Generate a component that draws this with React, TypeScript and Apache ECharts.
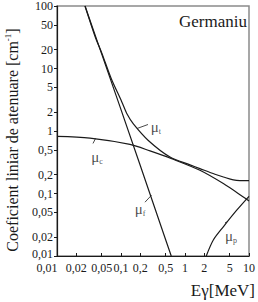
import React, { useEffect, useRef } from "react";
import * as echarts from "echarts";

const xTicks = [0.01, 0.02, 0.05, 0.1, 0.2, 0.5, 1, 2, 5, 10];
const xTickLabels = ["0,01", "0,02", "0,05", "0,1", "0,2", "0,5", "1", "2", "5", "10"];
const yTicks = [0.01, 0.02, 0.05, 0.1, 0.2, 0.5, 1, 2, 5, 10, 20, 50, 100];
const yTickLabels = ["0,01", "0,02", "0,05", "0,1", "0,2", "0,5", "1", "2", "5", "10", "20", "50", "100"];

// photoelectric (mu_f)
const energyF = [0.0274, 0.05, 0.1, 0.2, 0.5, 0.61];
const muF = [100, 17, 2.2, 0.28, 0.018, 0.01];

// Compton (mu_c)
const energyC = [0.01, 0.0328, 0.138, 0.284, 0.619, 1.71, 3.97, 8.15, 10];
const muC = [0.82, 0.77, 0.61, 0.48, 0.36, 0.235, 0.144, 0.088, 0.076];

// pair production (mu_p)
const energyP = [2.15, 2.77, 3.97, 6.43, 10];
const muP = [0.01, 0.018, 0.0293, 0.054, 0.09];

// total (mu_t)
const energyT = [0.0274, 0.04, 0.05, 0.07, 0.1026, 0.125, 0.156, 0.267, 0.583, 1.197, 1.71, 2.94, 3.97, 5.69, 7.23, 10];
const muT = [100, 31, 17.8, 7.0, 2.95, 1.85, 1.3, 0.706, 0.383, 0.287, 0.25, 0.203, 0.184, 0.165, 0.161, 0.161];

// curve labels
const labelSubs = ["t", "c", "f", "p"];
const labelE = [0.352, 0.0422, 0.198, 5.23];
const labelMu = [1.14, 0.378, 0.056, 0.0208];
const leaderFromE = [0.178, 0.04, 0.3, 4.45];
const leaderFromMu = [1.096, 0.76, 0.094, 0.0355];
const leaderToE = [0.264, 0.0365, 0.237, 4.22];
const leaderToMu = [1.27, 0.632, 0.0726, 0.0336];

const SERIF = '"Liberation Serif", "Times New Roman", serif';

function lookup(v: number, ticks: number[], labels: string[]) {
  for (let i = 0; i < ticks.length; i++) {
    if (Math.abs(Math.log10(v) - Math.log10(ticks[i])) < 1e-4) return labels[i];
  }
  return "";
}

const zip = (a: number[], b: number[]) => a.map((v, i) => [v, b[i]]);

export default function App() {
  const ref = useRef<HTMLDivElement>(null);
  useEffect(() => {
    document.body.style.margin = "0";
    if (!ref.current) return;
    const chart = echarts.init(ref.current, undefined, { renderer: "svg" });
    const lineStyle = { color: "#1a1a1a", width: 1.2 };
    const curve = (data: number[][], smooth: boolean | number) => ({
      type: "line",
      data,
      smooth,
      symbol: "none",
      lineStyle,
      clip: true,
      silent: true,
    });
    const leaders = labelSubs.map((_, i) => ({
      type: "line",
      data: [
        [leaderFromE[i], leaderFromMu[i]],
        [leaderToE[i], leaderToMu[i]],
      ],
      symbol: "none",
      lineStyle: { color: "#1a1a1a", width: 0.8 },
      silent: true,
    }));
    chart.setOption({
      animation: false,
      backgroundColor: "#ffffff",
      textStyle: { fontFamily: SERIF },
      grid: {
        left: 57,
        top: 5,
        width: 192,
        height: 251,
        show: true,
        borderColor: "#8a8a8a",
        borderWidth: 1.5,
        containLabel: false,
      },
      xAxis: {
        type: "log",
        logBase: 10,
        min: 0.01,
        max: 10,
        axisLine: { show: true, lineStyle: { color: "#1a1a1a", width: 1.2 } },
        axisTick: { show: true, inside: true, length: 3, customValues: xTicks, lineStyle: { color: "#1a1a1a" } },
        axisLabel: {
          customValues: xTicks,
          margin: 6,
          fontSize: 12,
          fontFamily: SERIF,
          color: "#1a1a1a",
          formatter: (v: number) => {
            const s = lookup(v, xTicks, xTickLabels);
            return Math.abs(v - 0.01) < 1e-9 ? "{first|" + s + "}" : s;
          },
          rich: { first: { padding: [0, 20, 0, 0], fontSize: 12, fontFamily: SERIF, color: "#1a1a1a" } },
        },
        splitLine: { show: false },
        minorTick: { show: false },
      },
      yAxis: {
        type: "log",
        logBase: 10,
        min: 0.01,
        max: 100,
        axisLine: { show: true, lineStyle: { color: "#1a1a1a", width: 1.2 } },
        axisTick: { show: true, inside: false, length: 3, customValues: yTicks, lineStyle: { color: "#1a1a1a" } },
        axisLabel: {
          customValues: yTicks,
          margin: 4,
          fontSize: 12,
          fontFamily: SERIF,
          color: "#1a1a1a",
          formatter: (v: number) => {
            const s = lookup(v, yTicks, yTickLabels);
            return Math.abs(v - 0.01) < 1e-9 ? "{low|" + s + "}" : s;
          },
          rich: { low: { padding: [0, 0, 4, 0], fontSize: 12, fontFamily: SERIF, color: "#1a1a1a" } },
        },
        splitLine: { show: false },
        minorTick: { show: false },
      },
      graphic: [
        {
          type: "text",
          right: 11,
          top: 13,
          style: { text: "Germaniu", font: "17px " + SERIF, fill: "#1a1a1a" },
        },
        {
          type: "text",
          right: 3,
          top: 282,
          style: { text: "Eγ[MeV]", font: "17px " + SERIF, fill: "#1a1a1a" },
        },
        {
          type: "text",
          x: 12,
          y: 140,
          rotation: Math.PI / 2,
          style: {
            text: "{a|Coeficient liniar de atenuare [cm}{s|-1}{a|]}",
            align: "center",
            verticalAlign: "middle",
            rich: {
              a: { fontSize: 16, fontFamily: SERIF, fill: "#1a1a1a", lineHeight: 18 },
              s: { fontSize: 9, fontFamily: SERIF, fill: "#1a1a1a", verticalAlign: "top", lineHeight: 18 },
            },
          },
        },
      ],
      series: [
        curve(zip(energyF, muF), false),
        curve(zip(energyC, muC), 0.3),
        curve(zip(energyP, muP), 0.3),
        curve(zip(energyT, muT), 0.3),
        ...leaders,
        {
          type: "scatter",
          symbolSize: 0,
          silent: true,
          data: labelSubs.map((s, i) => ({ value: [labelE[i], labelMu[i]], name: s })),
          label: {
            show: true,
            position: "inside",
            formatter: (p: any) => "{m|μ}{s|" + p.name + "}",
            rich: {
              m: { fontSize: 15, fontFamily: SERIF, color: "#1a1a1a", lineHeight: 16 },
              s: { fontSize: 8, fontFamily: SERIF, color: "#1a1a1a", verticalAlign: "bottom", lineHeight: 12 },
            },
          },
        },
      ],
    });
    return () => chart.dispose();
  }, []);
  return <div ref={ref} style={{ width: 258, height: 302 }} />;
}
